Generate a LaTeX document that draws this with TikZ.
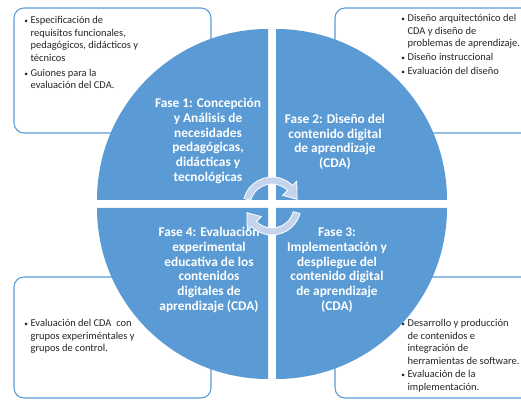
\documentclass[tikz,border=0pt]{standalone}
\usepackage{fontspec}
\setmainfont{Carlito}

\definecolor{azulfase}{HTML}{5B9BD5}
\definecolor{azulflecha}{HTML}{C3D4EC}
\definecolor{gristexto}{HTML}{262626}
\newcommand{\vineta}{{\fontsize{5.5}{5.5}\selectfont\textbullet}}

\begin{document}
\begin{tikzpicture}[x=0.75pt,y=0.75pt,
    caja/.style={draw=azulfase,line width=0.8pt,fill=white,rounded corners=7.5pt},
    lista/.style={anchor=base west,inner sep=0pt,text=gristexto,font=\fontsize{7.85}{9.3}\selectfont},
    fase/.style={align=center,inner sep=0pt,text=white,font=\bfseries\fontsize{10}{11}\selectfont},
    flechita/.style={fill=azulflecha,draw=white,line width=0.6pt}
    ]
\useasboundingbox (-272,-198) rectangle (249,204);

% cajas de las esquinas
\draw[caja] (-258,196) rectangle (-61,71);
\draw[caja] (63,196) rectangle (260,71);
\draw[caja] (-258,-73) rectangle (-61,-194);
\draw[caja] (63,-73) rectangle (260,-194);

\node[lista] (req) at (-248,180) {\begin{tabular}[t]{@{}l@{\hspace{2pt}}l@{}}
  \vineta & Especificación de\\
          & requisitos funcionales,\\
          & pedagógicos, didácticos y\\
          & técnicos\\[2pt]
  \vineta & Guiones para la\\
          & evaluación del CDA.
  \end{tabular}};
\node[lista] (dis) at (129,182) {\begin{tabular}[t]{@{}l@{\hspace{2pt}}l@{}}
  \vineta & Diseño arquitectónico del\\
          & CDA y diseño de\\
          & problemas de aprendizaje.\\[1pt]
  \vineta & Diseño instruccional\\[1pt]
  \vineta & Evaluación del diseño
  \end{tabular}};
\node[lista] (eva) at (-248,-123) {\begin{tabular}[t]{@{}l@{\hspace{2pt}}l@{}}
  \vineta & Evaluación del CDA\ \ con\\
          & grupos experiméntales y\\
          & grupos de control.
  \end{tabular}};
\node[lista] (imp) at (129,-123) {\begin{tabular}[t]{@{}l@{\hspace{2pt}}l@{}}
  \vineta & Desarrollo y producción\\
          & de contenidos e\\
          & integración de\\
          & herramientas de software.\\[1pt]
  \vineta & Evaluación de la\\
          & implementación.
  \end{tabular}};

% los cuatro cuadrantes
\foreach \ang in {0,90,180,270}
  \fill[azulfase,rotate=\ang] (4,4) -- (4,175) arc[start angle=90,end angle=0,radius=171] -- cycle;

\node[fase] (f1) at (-64,63) {Fase 1: Concepción\\y Análisis de\\necesidades\\pedagógicas,\\didácticas y\\tecnológicas};
\node[fase] (f2) at (63,62) {Fase 2: Diseño del\\contenido digital\\de aprendizaje\\(CDA)};
\node[fase] (f3) at (65,-66) {Fase 3:\\Implementación y\\despliegue del\\contenido digital\\de aprendizaje\\(CDA)};
\node[fase] (f4) at (-63,-66) {Fase 4: Evaluación\\experimental\\educativa de los\\contenidos\\digitales de\\aprendizaje (CDA)};

% flechas circulares del centro
\foreach \ang in {0,180}
  \filldraw[flechita,shift={(0,-2)},rotate=\ang]
    (165:29) arc[start angle=165,end angle=45,radius=29] -- (45:35) -- (15:26)
    -- (45:15) -- (45:22) arc[start angle=45,end angle=165,radius=22] -- cycle;

\end{tikzpicture}
\end{document}
